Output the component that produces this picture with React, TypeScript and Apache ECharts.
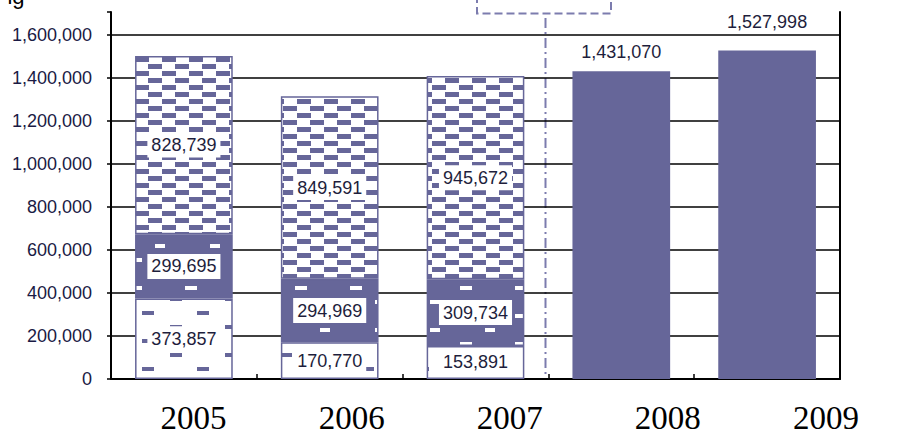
import React, { useEffect, useRef } from 'react';
import * as echarts from 'echarts';

// ---- data ----
const years = ['2005', '2006', '2007', '2008', '2009'];
const lowerValues = [373857, 170770, 153891, null, null];
const middleValues = [299695, 294969, 309734, null, null];
const upperValues = [828739, 849591, 945672, null, null];
const totalValues = [null, null, null, 1431070, 1527998];
const yTickStep = 200000;
const yMax = 1707000;

const PURPLE = '#666699';
const DASH = '#7c7cae';

function makeTile(w: number, h: number, bg: string, fg: string, rects: number[][]) {
  const c = document.createElement('canvas');
  c.width = w;
  c.height = h;
  const ctx = c.getContext('2d')!;
  ctx.fillStyle = bg;
  ctx.fillRect(0, 0, w, h);
  ctx.fillStyle = fg;
  rects.forEach(([x, y, rw, rh]) => ctx.fillRect(x, y, rw, rh));
  return c;
}

const fmt = (v: any) => (v == null || v === '-' ? '' : Number(v).toLocaleString('en-US'));

export default function App() {
  const ref = useRef<HTMLDivElement>(null);
  useEffect(() => {
    if (!ref.current) return;
    const chart = echarts.init(ref.current, null, { renderer: 'svg' });

    const checkTile = makeTile(27, 14, '#ffffff', PURPLE, [
      [0, 1, 14, 5],
      [13, 8, 14, 5],
    ]);
    const sparseTile = makeTile(55, 28, '#ffffff', PURPLE, [
      [32, 3, 12, 4],
      [5, 17, 12, 4],
    ]);
    const sparseDarkTile = makeTile(55, 28, PURPLE, '#ffffff', [
      [20, 6, 12, 4],
      [45, 20, 12, 4],
    ]);

    const segLabel = {
      show: true,
      position: 'inside',
      backgroundColor: '#ffffff',
      padding: [4, 4, 3, 4],
      color: '#1e1e3c',
      fontSize: 18,
      fontFamily: 'Liberation Sans, Arial, sans-serif',
      formatter: (p: any) => fmt(p.value),
    };

    const segItem = (img: HTMLCanvasElement) => ({
      color: { image: img, repeat: 'repeat' },
      borderColor: PURPLE,
      borderWidth: 1.5,
    });

    const option: any = {
      animation: false,
      backgroundColor: '#ffffff',
      grid: [
        { left: 111, right: 65, top: 12, bottom: 57 },
        { left: 114.5, right: -44.5, top: 12, bottom: 57 },
      ],
      xAxis: [
        {
          type: 'category',
          gridIndex: 0,
          data: years,
          axisLine: { show: true, lineStyle: { color: '#000', width: 2 } },
          axisTick: { show: true, inside: true, length: 5, lineStyle: { color: '#000', width: 1.5 } },
          axisLabel: { show: false },
        },
        {
          type: 'category',
          gridIndex: 1,
          data: years,
          axisLine: { show: false },
          axisTick: { show: false },
          axisLabel: {
            show: true,
            margin: 22,
            color: '#000',
            fontSize: 33,
            fontFamily: 'Liberation Serif, Times New Roman, serif',
          },
        },
      ],
      yAxis: [
        {
          type: 'value',
          gridIndex: 0,
          min: 0,
          max: yMax,
          interval: yTickStep,
          axisLine: { show: true, lineStyle: { color: '#000', width: 2 } },
          axisTick: { show: true, inside: false, length: 4, lineStyle: { color: '#000', width: 1.5 } },
          axisLabel: {
            margin: 19,
            color: '#1a1a44',
            fontSize: 18,
            fontFamily: 'Liberation Sans, Arial, sans-serif',
            formatter: (v: number) => (v % yTickStep === 0 ? v.toLocaleString('en-US') : ''),
          },
          splitLine: { show: true, showMaxLine: false, lineStyle: { color: '#000', width: 1.5 } },
        },
        {
          type: 'value',
          gridIndex: 0,
          position: 'right',
          axisLine: { show: true, onZero: false, lineStyle: { color: '#000', width: 2 } },
          axisTick: { show: false },
          axisLabel: { show: false },
          splitLine: { show: false },
        },
        { type: 'value', gridIndex: 1, show: false },
      ],
      series: [
        {
          name: 'lower',
          type: 'bar',
          stack: 'total',
          xAxisIndex: 0,
          yAxisIndex: 0,
          barWidth: '67%',
          data: lowerValues,
          itemStyle: segItem(sparseTile),
          label: segLabel,
        },
        {
          name: 'middle',
          type: 'bar',
          stack: 'total',
          xAxisIndex: 0,
          yAxisIndex: 0,
          barWidth: '67%',
          data: middleValues,
          itemStyle: segItem(sparseDarkTile),
          label: segLabel,
        },
        {
          name: 'upper',
          type: 'bar',
          stack: 'total',
          xAxisIndex: 0,
          yAxisIndex: 0,
          barWidth: '67%',
          data: upperValues,
          itemStyle: segItem(checkTile),
          label: segLabel,
        },
        {
          name: 'total',
          type: 'bar',
          stack: 'total',
          xAxisIndex: 0,
          yAxisIndex: 0,
          barWidth: '67%',
          data: totalValues.map((v, i) =>
            v == null ? null : { value: v, label: { distance: i === 4 ? 19 : 10 } }
          ),
          itemStyle: { color: PURPLE },
          label: {
            show: true,
            position: 'top',
            color: '#1e1e3c',
            fontSize: 18,
            fontFamily: 'Liberation Sans, Arial, sans-serif',
            formatter: (p: any) => fmt(p.value),
          },
        },
      ],
      graphic: [
        {
          type: 'text',
          x: -6,
          y: 7,
          style: {
            text: 'Fig',
            fill: '#000',
            font: '22px Liberation Sans, Arial, sans-serif',
            verticalAlign: 'bottom',
          },
        },
        {
          type: 'rect',
          shape: { x: 477, y: -20, width: 134, height: 33.5 },
          style: { fill: 'none', stroke: DASH, lineWidth: 2, lineDash: [8, 4] },
        },
        {
          type: 'line',
          shape: { x1: 545.5, y1: 18, x2: 545.5, y2: 378 },
          style: { stroke: DASH, lineWidth: 2, lineDash: [10, 4, 2, 4] },
        },
      ],
    };

    chart.setOption(option);
    return () => chart.dispose();
  }, []);

  return (
    <div
      ref={ref}
      style={{ position: 'absolute', left: 0, top: 0, width: 905, height: 436 }}
    />
  );
}
